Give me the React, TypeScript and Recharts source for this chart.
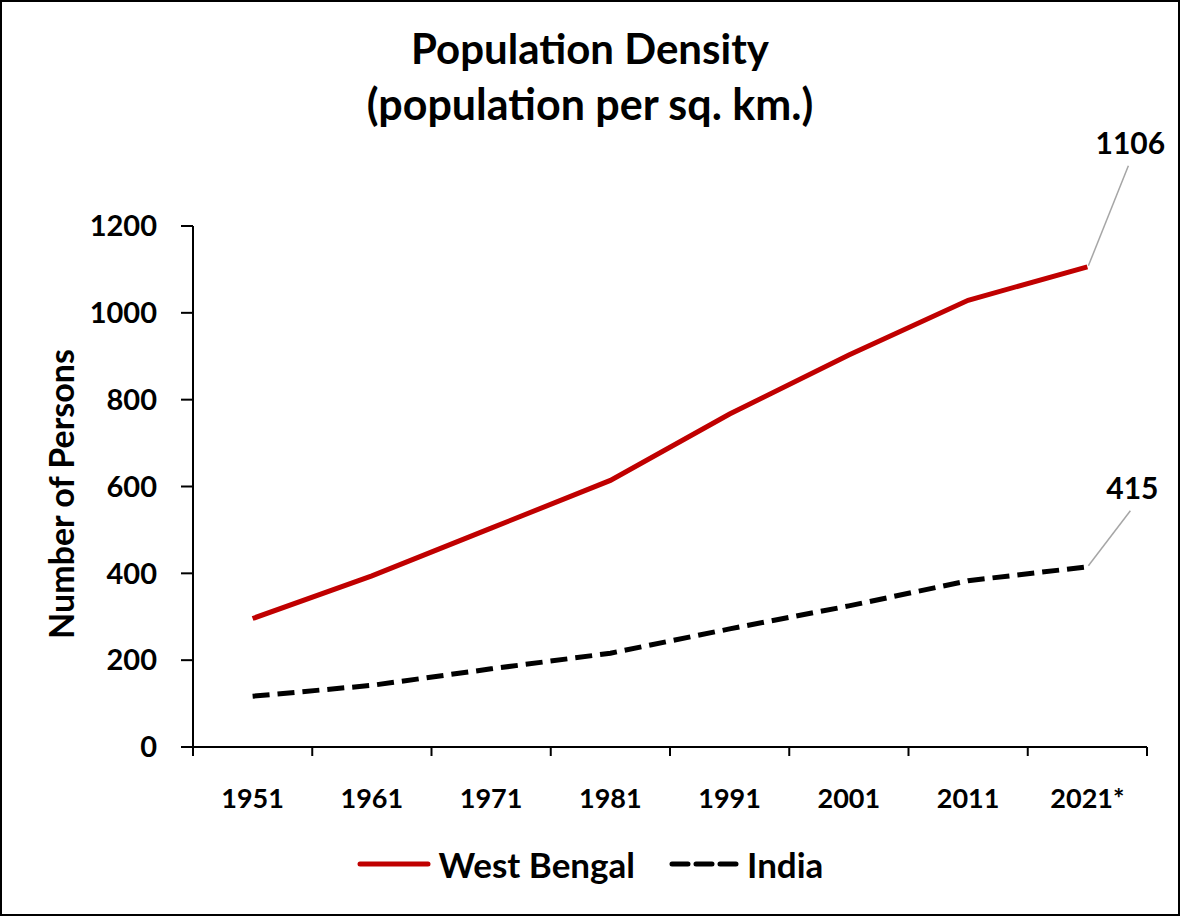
import { LineChart, Line, XAxis, YAxis, Legend, LabelList } from "recharts"

const years = ["1951", "1961", "1971", "1981", "1991", "2001", "2011", "2021*"]
const westBengal = [296, 394, 504, 614, 767, 903, 1029, 1106]
const india = [117, 142, 180, 216, 272, 325, 383, 415]
const yTicks = [0, 200, 400, 600, 800, 1000, 1200]

const W = 1176
const H = 912
const Y_AXIS_W = 191
const X_AXIS_H = 30
const MARGIN = { top: 224, right: 31, bottom: 167 - X_AXIS_H, left: 0 }
const BAND = (W - Y_AXIS_W - MARGIN.right) / years.length
const FONT = "Lato, 'Open Sans', sans-serif"
const RED = "#C00000"

const data = years.map((year, i) => ({ year, wb: westBengal[i], india: india[i] }))

function YearTick(props: any) {
  const { x, y, payload, index } = props
  return (
    <g>
      <line x1={x - BAND / 2} x2={x - BAND / 2} y1={y} y2={y + 9} stroke="#000" strokeWidth={2} />
      {index === years.length - 1 && (
        <line x1={x + BAND / 2} x2={x + BAND / 2} y1={y} y2={y + 9} stroke="#000" strokeWidth={2} />
      )}
      <text x={x} y={y + 61} textAnchor="middle" fontFamily={FONT} fontWeight={700} fontSize={27} fill="#000">
        {payload.value}
      </text>
    </g>
  )
}

// leader line + value, only on the last point
function endLabel(dx: number, dy: number) {
  return (props: any) => {
    const { x, y, index, value } = props
    if (index !== years.length - 1) return null
    return (
      <g>
        <line x1={x + 1} y1={y - 1} x2={x + dx} y2={y + dy} stroke="#a6a6a6" strokeWidth={1.5} />
        <text x={x + dx + 2} y={y + dy - 12} textAnchor="middle" fontFamily={FONT} fontWeight={700} fontSize={30} fill="#000">
          {value}
        </text>
      </g>
    )
  }
}

function LegendContent() {
  const item = { display: "flex", alignItems: "center", gap: 8 }
  return (
    <div style={{ display: "flex", justifyContent: "center", gap: 34, fontFamily: FONT, fontWeight: 700, fontSize: 35, color: "#000" }}>
      <div style={item}>
        <svg width={74} height={10}>
          <line x1={3} x2={71} y1={5} y2={5} stroke={RED} strokeWidth={5} strokeLinecap="round" />
        </svg>
        <span>West Bengal</span>
      </div>
      <div style={item}>
        <svg width={70} height={10}>
          <line x1={3} x2={67} y1={5} y2={5} stroke="#000" strokeWidth={5} strokeDasharray="16 8" strokeLinecap="round" />
        </svg>
        <span>India</span>
      </div>
    </div>
  )
}

export default function App() {
  return (
    <div style={{ position: "absolute", left: 0, top: 0, width: 1180, height: 916, boxSizing: "border-box", border: "2px solid #000", background: "#fff" }}>
      <div style={{ position: "absolute", left: 0, top: 18, width: W, textAlign: "center", fontFamily: FONT, fontWeight: 700, fontSize: 42, lineHeight: "56px", color: "#000" }}>
        Population Density
        <br />
        <span style={{ fontSize: 43 }}>(population per sq. km.)</span>
      </div>
      <div style={{ position: "absolute", left: 58, top: 492, width: 0, height: 0 }}>
        <div style={{ position: "absolute", transform: "translate(-50%, -50%) rotate(-90deg)", whiteSpace: "nowrap", fontFamily: FONT, fontWeight: 700, fontSize: 34, color: "#000" }}>
          Number of Persons
        </div>
      </div>
      <LineChart width={W} height={H} data={data} margin={MARGIN}>
        <XAxis
          dataKey="year"
          scale="band"
          height={X_AXIS_H}
          tick={<YearTick />}
          tickLine={false}
          tickSize={0}
          tickMargin={0}
          axisLine={{ stroke: "#000", strokeWidth: 2 }}
          interval={0}
        />
        <YAxis
          width={Y_AXIS_W}
          domain={[0, 1200]}
          ticks={yTicks}
          tickSize={12}
          tickMargin={24}
          axisLine={{ stroke: "#000", strokeWidth: 2 }}
          tickLine={{ stroke: "#000", strokeWidth: 2 }}
          tick={{ fill: "#000", fontFamily: FONT, fontWeight: 700, fontSize: 29 }}
        />
        <Line
          dataKey="wb"
          name="West Bengal"
          stroke={RED}
          strokeWidth={5}
          dot={false}
          isAnimationActive={false}
        >
          <LabelList dataKey="wb" content={endLabel(41, -101)} />
        </Line>
        <Line
          dataKey="india"
          name="India"
          stroke="#000"
          strokeWidth={5}
          strokeDasharray="17 8"
          dot={false}
          isAnimationActive={false}
        >
          <LabelList dataKey="india" content={endLabel(43, -56)} />
        </Line>
        <Legend
          layout="horizontal"
          verticalAlign="middle"
          align="center"
          content={<LegendContent />}
          wrapperStyle={{ top: 841, left: 0, width: W }}
        />
      </LineChart>
    </div>
  )
}
